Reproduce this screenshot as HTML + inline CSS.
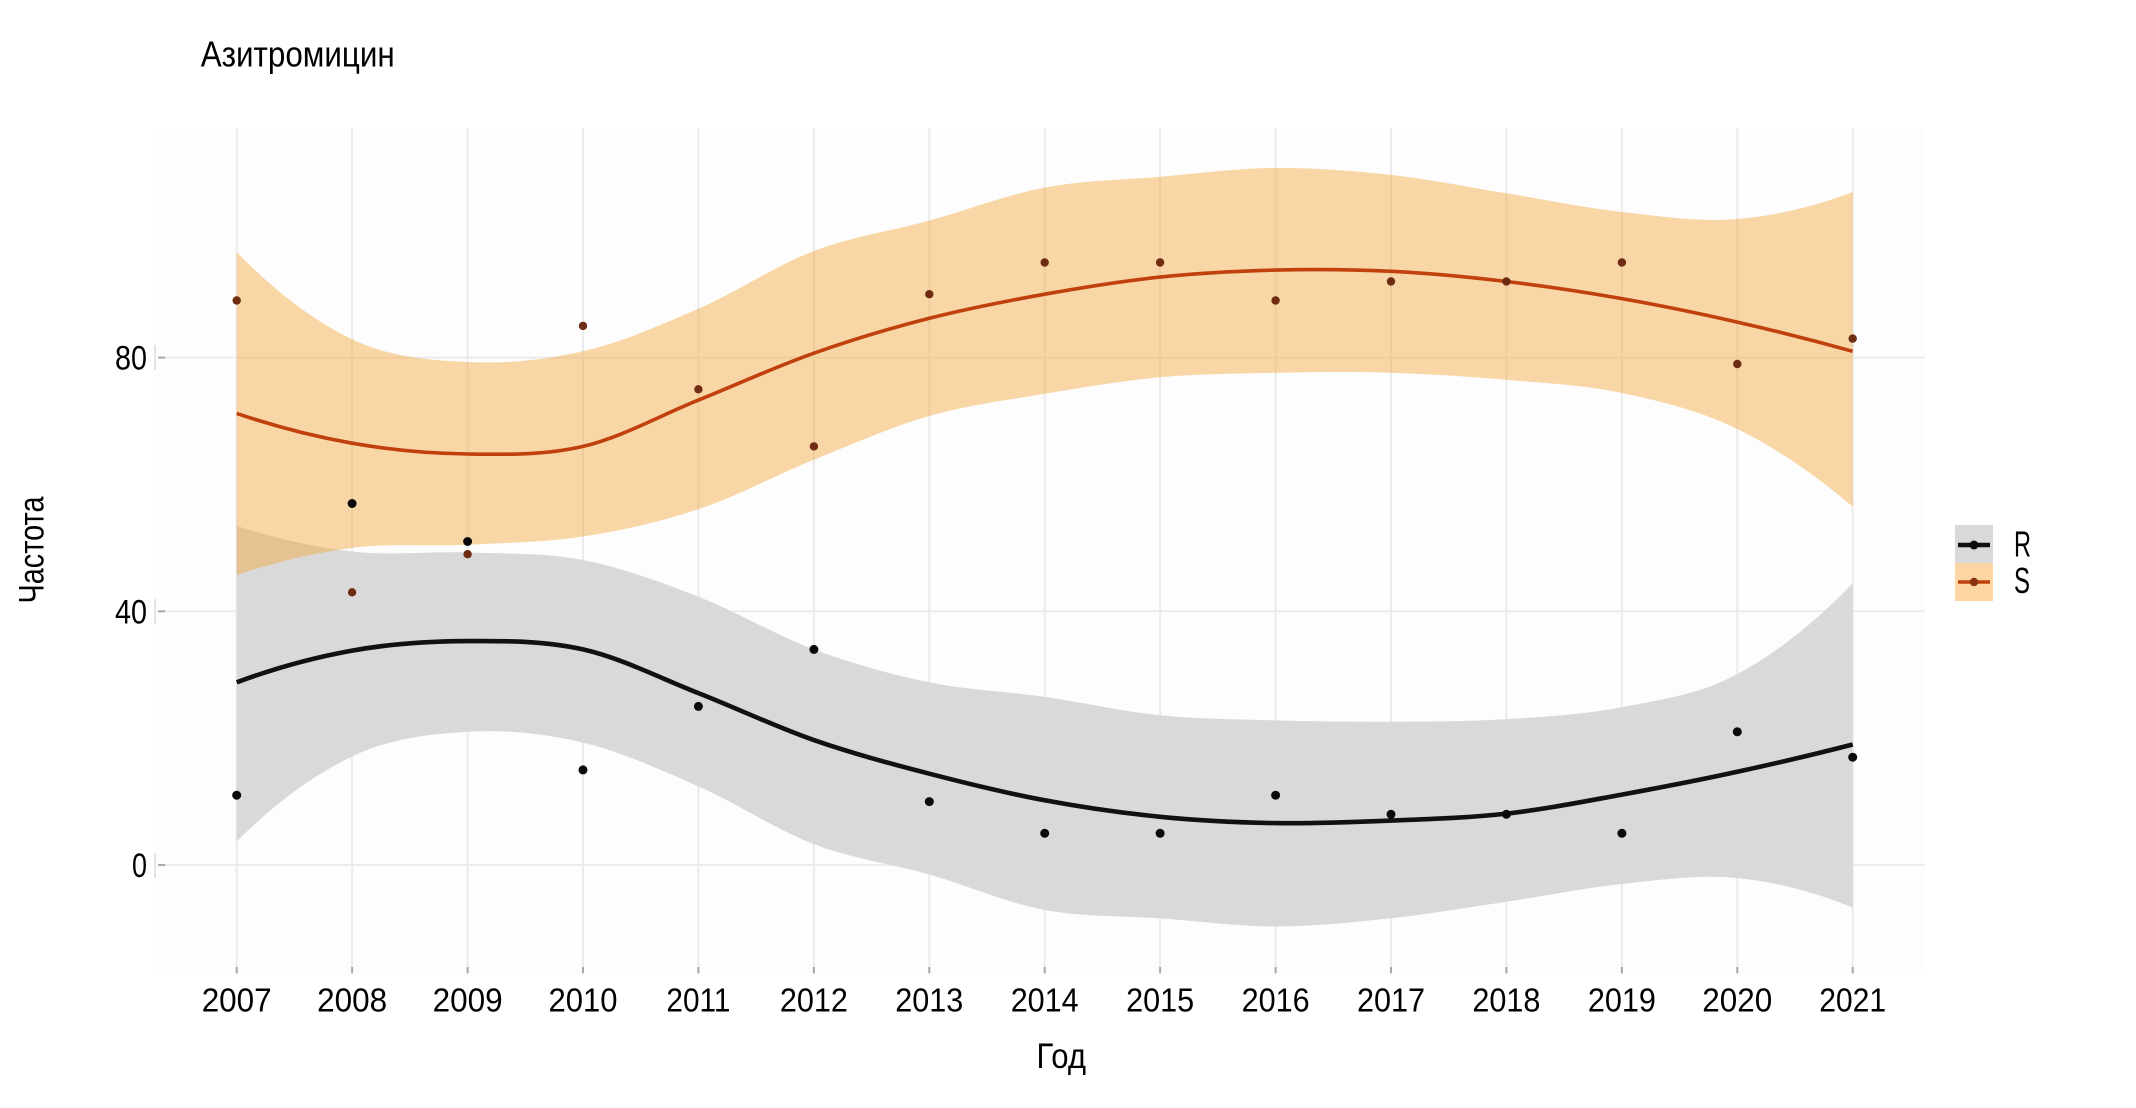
<!DOCTYPE html>
<html>
<head>
<meta charset="utf-8">
<style>
  html, body { margin: 0; padding: 0; background: #ffffff; }
  svg { display: block; }
  text { font-family: "Liberation Sans", "DejaVu Sans", sans-serif; fill: #000; }
</style>
</head>
<body>
<svg width="2136" height="1108" viewBox="0 0 2136 1108" xmlns="http://www.w3.org/2000/svg">
  <rect x="0" y="0" width="2136" height="1108" fill="#ffffff"/>
  <!-- panel -->
  <rect x="154" y="128" width="1771" height="847" fill="#fdfdfd"/>

  <!-- gridlines -->
  <g stroke="#ebebeb" stroke-width="2" fill="none">
    <line x1="160" y1="357.6" x2="1925" y2="357.6"/>
    <line x1="160" y1="611.3" x2="1925" y2="611.3"/>
    <line x1="160" y1="865" x2="1925" y2="865"/>
    <line x1="236.7" y1="128" x2="236.7" y2="975"/>
    <line x1="352.1" y1="128" x2="352.1" y2="975"/>
    <line x1="467.6" y1="128" x2="467.6" y2="975"/>
    <line x1="583.0" y1="128" x2="583.0" y2="975"/>
    <line x1="698.4" y1="128" x2="698.4" y2="975"/>
    <line x1="813.9" y1="128" x2="813.9" y2="975"/>
    <line x1="929.3" y1="128" x2="929.3" y2="975"/>
    <line x1="1044.7" y1="128" x2="1044.7" y2="975"/>
    <line x1="1160.1" y1="128" x2="1160.1" y2="975"/>
    <line x1="1275.6" y1="128" x2="1275.6" y2="975"/>
    <line x1="1391.0" y1="128" x2="1391.0" y2="975"/>
    <line x1="1506.4" y1="128" x2="1506.4" y2="975"/>
    <line x1="1621.9" y1="128" x2="1621.9" y2="975"/>
    <line x1="1737.3" y1="128" x2="1737.3" y2="975"/>
    <line x1="1852.7" y1="128" x2="1852.7" y2="975"/>
  </g>

  <!-- axis ticks -->
  <g stroke="#a8a8a8" stroke-width="2">
    <line x1="158" y1="357.6" x2="165" y2="357.6"/>
    <line x1="158" y1="611.3" x2="165" y2="611.3"/>
    <line x1="158" y1="865" x2="165" y2="865"/>
    <line x1="236.7" y1="967" x2="236.7" y2="973"/>
    <line x1="352.1" y1="967" x2="352.1" y2="973"/>
    <line x1="467.6" y1="967" x2="467.6" y2="973"/>
    <line x1="583.0" y1="967" x2="583.0" y2="973"/>
    <line x1="698.4" y1="967" x2="698.4" y2="973"/>
    <line x1="813.9" y1="967" x2="813.9" y2="973"/>
    <line x1="929.3" y1="967" x2="929.3" y2="973"/>
    <line x1="1044.7" y1="967" x2="1044.7" y2="973"/>
    <line x1="1160.1" y1="967" x2="1160.1" y2="973"/>
    <line x1="1275.6" y1="967" x2="1275.6" y2="973"/>
    <line x1="1391.0" y1="967" x2="1391.0" y2="973"/>
    <line x1="1506.4" y1="967" x2="1506.4" y2="973"/>
    <line x1="1621.9" y1="967" x2="1621.9" y2="973"/>
    <line x1="1737.3" y1="967" x2="1737.3" y2="973"/>
    <line x1="1852.7" y1="967" x2="1852.7" y2="973"/>
  </g>
  <g stroke="#d8d8d8" stroke-width="1.5">
    <line x1="155" y1="345" x2="155" y2="370"/>
    <line x1="155" y1="599" x2="155" y2="624"/>
    <line x1="155" y1="853" x2="155" y2="878"/>
  </g>

  <!-- R ribbon -->
  <path fill="#d9d9d9" d="M236.7,525.9 C275.2,538.5 313.7,547.1 352.1,551.5 S429.1,551.1 467.6,552.5 S544.5,552.6 583.0,560.0 S659.9,581.8 698.4,596.7 S775.4,635.1 813.9,649.4 S890.8,674.4 929.3,682.3 S1006.2,691.4 1044.7,696.9 S1121.7,711.4 1160.1,715.3 S1237.1,719.3 1275.6,720.4 S1352.5,721.9 1391.0,721.7 S1468.0,721.5 1506.4,719.1 S1583.4,714.6 1621.9,707.1 S1698.8,694.7 1737.3,674.1 S1814.2,623.3 1852.7,583.4 L1852.7,907.5 C1814.2,891.8 1775.8,881.9 1737.3,878.0 S1660.3,880.0 1621.9,884.0 S1544.9,896.1 1506.4,901.8 S1429.5,914.2 1391.0,918.3 S1314.1,926.5 1275.6,926.5 S1198.6,921.1 1160.1,918.3 S1083.2,917.3 1044.7,910.0 S967.8,885.5 929.3,874.5 S852.3,858.8 813.9,844.1 S736.9,803.3 698.4,786.4 S621.5,751.7 583.0,742.6 S506.0,729.5 467.6,731.8 S390.6,738.2 352.1,756.5 S275.2,803.1 236.7,841.5 Z"/>

  <!-- S ribbon -->
  <path fill="rgb(245,168,62)" fill-opacity="0.46" d="M236.7,252 C275.2,291.8 313.7,320.9 352.1,339.2 S429.1,360.0 467.6,362.0 S544.5,360.2 583.0,351.3 S659.9,325.5 698.4,308.8 S775.4,265.7 813.9,251.0 S890.8,231.2 929.3,220.6 S1006.2,194.9 1044.7,187.6 S1121.7,180.1 1160.1,176.8 S1237.1,168.3 1275.6,168.0 S1352.5,170.7 1391.0,174.9 S1468.0,187.1 1506.4,193.3 S1583.4,207.7 1621.9,212.0 S1698.8,222.3 1737.3,219.0 S1814.2,206.7 1852.7,192.0 L1852.7,506.6 C1814.2,473.8 1775.8,447.9 1737.3,429.0 S1660.3,401.2 1621.9,393.0 S1544.9,383.2 1506.4,379.8 S1429.5,374.0 1391.0,372.8 S1314.1,372.0 1275.6,372.8 S1198.6,373.8 1160.1,377.3 S1083.2,387.3 1044.7,393.8 S967.8,405.0 929.3,416.0 S852.3,444.2 813.9,459.7 S736.9,496.4 698.4,509.2 S621.5,530.6 583.0,536.5 S506.0,542.8 467.6,544.7 S390.6,542.8 352.1,547.9 S275.2,562.0 236.7,575.1 Z"/>

  <!-- lines -->
  <path fill="none" stroke="#c0400e" stroke-width="3.6" stroke-linecap="butt" d="M236.7,413.4 C275.2,426.5 313.7,436.4 352.1,443.2 S429.1,453.5 467.6,454.0 S544.5,455.4 583.0,446.4 S659.9,415.6 698.4,400.1 S775.4,366.8 813.9,353.2 S890.8,328.1 929.3,318.3 S1006.2,301.1 1044.7,294.2 S1121.7,281.1 1160.1,277.1 S1237.1,271.1 1275.6,270.1 S1352.5,269.4 1391.0,271.3 S1468.0,277.0 1506.4,281.5 S1583.4,291.8 1621.9,298.6 S1698.8,313.3 1737.3,322.1 S1814.2,340.6 1852.7,351.3"/>
  <path fill="none" stroke="#111111" stroke-width="4.6" stroke-linecap="butt" d="M236.7,682.3 C275.2,668.0 313.7,657.5 352.1,650.6 S429.1,641.3 467.6,641.1 S544.5,640.7 583.0,649.4 S659.9,678.0 698.4,693.1 S775.4,726.7 813.9,740.1 S890.8,763.7 929.3,773.7 S1006.2,793.1 1044.7,800.3 S1121.7,813.0 1160.1,816.8 S1237.1,822.5 1275.6,823.1 S1352.5,822.2 1391.0,820.6 S1468.0,817.9 1506.4,813.6 S1583.4,801.6 1621.9,794.6 S1698.8,780.2 1737.3,771.8 S1814.2,754.4 1852.7,744.5"/>

  <!-- S points -->
  <g fill="#6e2c12">
    <circle cx="236.7" cy="300.5" r="4.2"/>
    <circle cx="352.1" cy="592.3" r="4.2"/>
    <circle cx="467.6" cy="554.2" r="4.2"/>
    <circle cx="583.0" cy="325.9" r="4.2"/>
    <circle cx="698.4" cy="389.3" r="4.2"/>
    <circle cx="813.9" cy="446.4" r="4.2"/>
    <circle cx="929.3" cy="294.2" r="4.2"/>
    <circle cx="1044.7" cy="262.5" r="4.2"/>
    <circle cx="1160.1" cy="262.5" r="4.2"/>
    <circle cx="1275.6" cy="300.5" r="4.2"/>
    <circle cx="1391.0" cy="281.5" r="4.2"/>
    <circle cx="1506.4" cy="281.5" r="4.2"/>
    <circle cx="1621.9" cy="262.5" r="4.2"/>
    <circle cx="1737.3" cy="364.0" r="4.2"/>
    <circle cx="1852.7" cy="338.6" r="4.2"/>
  </g>
  <!-- R points -->
  <g fill="#0a0a0a">
    <circle cx="236.7" cy="795.2" r="4.5"/>
    <circle cx="352.1" cy="503.5" r="4.5"/>
    <circle cx="467.6" cy="541.5" r="4.5"/>
    <circle cx="583.0" cy="769.9" r="4.5"/>
    <circle cx="698.4" cy="706.4" r="4.5"/>
    <circle cx="813.9" cy="649.4" r="4.5"/>
    <circle cx="929.3" cy="801.6" r="4.5"/>
    <circle cx="1044.7" cy="833.3" r="4.5"/>
    <circle cx="1160.1" cy="833.3" r="4.5"/>
    <circle cx="1275.6" cy="795.2" r="4.5"/>
    <circle cx="1391.0" cy="814.3" r="4.5"/>
    <circle cx="1506.4" cy="814.3" r="4.5"/>
    <circle cx="1621.9" cy="833.3" r="4.5"/>
    <circle cx="1737.3" cy="731.8" r="4.5"/>
    <circle cx="1852.7" cy="757.2" r="4.5"/>
  </g>

  <!-- title -->
  <text x="200.7" y="66.7" font-size="36" textLength="194" lengthAdjust="spacingAndGlyphs">Азитромицин</text>

  <!-- y tick labels -->
  <text x="147" y="369.6" font-size="34" text-anchor="end" textLength="32" lengthAdjust="spacingAndGlyphs">80</text>
  <text x="147" y="623.3" font-size="34" text-anchor="end" textLength="32" lengthAdjust="spacingAndGlyphs">40</text>
  <text x="147" y="877" font-size="34" text-anchor="end" textLength="15" lengthAdjust="spacingAndGlyphs">0</text>

  <!-- y axis title -->
  <text x="43.3" y="550" font-size="35" text-anchor="middle" textLength="107" lengthAdjust="spacingAndGlyphs" transform="rotate(-90 43.3 550)">Частота</text>

  <!-- x tick labels -->
  <g font-size="33.5" text-anchor="middle">
    <text x="236.7" y="1011.7" textLength="70" lengthAdjust="spacingAndGlyphs">2007</text>
    <text x="352.1" y="1011.7" textLength="70" lengthAdjust="spacingAndGlyphs">2008</text>
    <text x="467.6" y="1011.7" textLength="70" lengthAdjust="spacingAndGlyphs">2009</text>
    <text x="583.0" y="1011.7" textLength="69" lengthAdjust="spacingAndGlyphs">2010</text>
    <text x="698.4" y="1011.7" textLength="64" lengthAdjust="spacingAndGlyphs">2011</text>
    <text x="813.9" y="1011.7" textLength="68" lengthAdjust="spacingAndGlyphs">2012</text>
    <text x="929.3" y="1011.7" textLength="68" lengthAdjust="spacingAndGlyphs">2013</text>
    <text x="1044.7" y="1011.7" textLength="68" lengthAdjust="spacingAndGlyphs">2014</text>
    <text x="1160.1" y="1011.7" textLength="68" lengthAdjust="spacingAndGlyphs">2015</text>
    <text x="1275.6" y="1011.7" textLength="68" lengthAdjust="spacingAndGlyphs">2016</text>
    <text x="1391.0" y="1011.7" textLength="68" lengthAdjust="spacingAndGlyphs">2017</text>
    <text x="1506.4" y="1011.7" textLength="68" lengthAdjust="spacingAndGlyphs">2018</text>
    <text x="1621.9" y="1011.7" textLength="68" lengthAdjust="spacingAndGlyphs">2019</text>
    <text x="1737.3" y="1011.7" textLength="70" lengthAdjust="spacingAndGlyphs">2020</text>
    <text x="1852.7" y="1011.7" textLength="67" lengthAdjust="spacingAndGlyphs">2021</text>
  </g>

  <!-- x axis title -->
  <text x="1036.5" y="1068" font-size="35" textLength="49.5" lengthAdjust="spacingAndGlyphs">Год</text>

  <!-- legend -->
  <rect x="1955" y="525" width="38" height="38" fill="#d9d9d9"/>
  <rect x="1955" y="563" width="38" height="38" fill="#fbd6a2"/>
  <line x1="1958" y1="545" x2="1990" y2="545" stroke="#111" stroke-width="4.5"/>
  <circle cx="1974" cy="545" r="4.5" fill="#0a0a0a"/>
  <line x1="1958" y1="582" x2="1990" y2="582" stroke="#c0400e" stroke-width="3.6"/>
  <circle cx="1974" cy="582" r="4.2" fill="#8a3410"/>
  <text x="2014" y="556.7" font-size="36" textLength="17" lengthAdjust="spacingAndGlyphs">R</text>
  <text x="2014" y="593" font-size="36" textLength="16" lengthAdjust="spacingAndGlyphs">S</text>
</svg>
</body>
</html>
